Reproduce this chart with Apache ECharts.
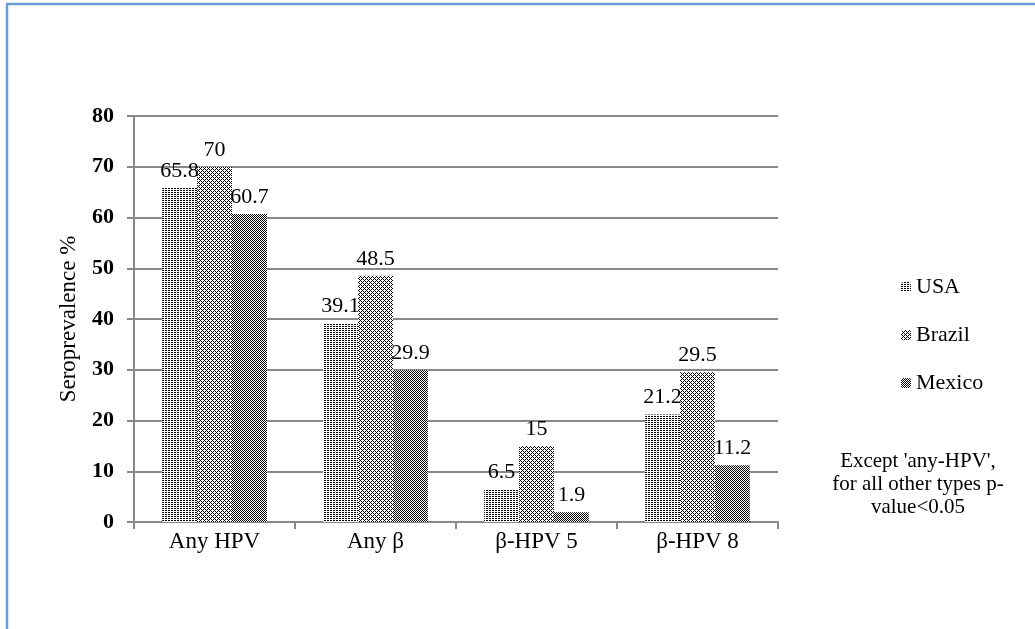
<!DOCTYPE html>
<html><head><meta charset="utf-8">
<script src="https://cdn.jsdelivr.net/npm/echarts@6/dist/echarts.min.js"></script>
<style>html,body{margin:0;padding:0;background:#fff}#c{width:1035px;height:629px}</style>
</head><body><div id="c"></div>
<script>
const categories = ['Any HPV', 'Any β', 'β-HPV 5', 'β-HPV 8'];
const usa = [65.8, 39.1, 6.5, 21.2];
const brazil = [70, 48.5, 15, 29.5];
const mexico = [60.7, 29.9, 1.9, 11.2];
const seriesNames = ['USA', 'Brazil', 'Mexico'];
const yTicks = {min: 0, max: 80, interval: 10};
const noteText = "Except 'any-HPV',\nfor all other types p-\nvalue<0.05";

function makePattern(w, h, blacks) {
  const c = document.createElement('canvas');
  c.width = w; c.height = h;
  const ctx = c.getContext('2d');
  ctx.fillStyle = '#fff'; ctx.fillRect(0, 0, w, h);
  ctx.fillStyle = '#000';
  blacks.forEach(p => ctx.fillRect(p[0], p[1], 1, 1));
  return {image: c, repeat: 'repeat'};
}
const patUSA = makePattern(3, 2, [[0,0],[1,0]]);
const patBrazil = makePattern(4, 4, [[0,0],[1,1],[2,2],[3,3],[1,3],[3,1]]);
const patMexico = makePattern(2, 2, [[0,0],[1,1]]);
const pats = [patUSA, patBrazil, patMexico];
const datas = [usa, brazil, mexico];

const serif = 'Liberation Serif';
const chart = echarts.init(document.getElementById('c'));
chart.setOption({
  animation: false,
  grid: {left: 134, top: 116, right: 257, bottom: 107},
  legend: {
    orient: 'vertical', left: 896, top: 271, itemWidth: 10, itemHeight: 10, itemGap: 26,
    textStyle: {fontFamily: serif, fontSize: 22, color: '#000'},
    data: seriesNames
  },
  xAxis: {
    type: 'category', data: categories,
    axisLine: {lineStyle: {color: '#888', width: 2}},
    axisTick: {show: true, length: 7, lineStyle: {color: '#888', width: 2}},
    axisLabel: {fontFamily: serif, fontSize: 23, color: '#000', margin: 8}
  },
  yAxis: {
    type: 'value', min: yTicks.min, max: yTicks.max, interval: yTicks.interval,
    name: 'Seroprevalence %', nameLocation: 'middle', nameRotate: 90, nameGap: 54,
    nameTextStyle: {fontFamily: serif, fontSize: 23, color: '#000'},
    axisLine: {show: true, lineStyle: {color: '#888', width: 2}},
    axisTick: {show: true, length: 7, lineStyle: {color: '#888', width: 2}},
    axisLabel: {fontFamily: serif, fontSize: 22, fontWeight: 'bold', color: '#000', margin: 20},
    splitLine: {lineStyle: {color: '#888', width: 2}}
  },
  series: seriesNames.map((n, i) => ({
    name: n, type: 'bar', data: datas[i], barGap: '0%', barCategoryGap: '35%',
    itemStyle: {color: pats[i]},
    label: {show: true, position: 'top', distance: 6, fontFamily: serif, fontSize: 22, color: '#000'}
  })),
  graphic: [
    {type: 'line', shape: {x1: 7, y1: 4, x2: 7, y2: 629}, style: {stroke: '#6d9bd3', lineWidth: 2.5}},
    {type: 'line', shape: {x1: 6, y1: 4, x2: 1035, y2: 4}, style: {stroke: '#6d9bd3', lineWidth: 2.5}},
    {type: 'text', x: 918, y: 450,
     style: {text: noteText, align: 'center', textAlign: 'center',
       font: '21px "Liberation Serif"', fontFamily: serif, fontSize: 21, lineHeight: 23, fill: '#000'}}
  ]
});
</script></body></html>
